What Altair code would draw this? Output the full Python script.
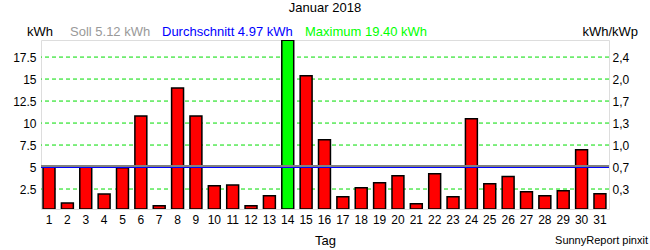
import altair as alt
import pandas as pd

days = list(range(1, 32))
energy = [5.0, 0.9, 5.0, 1.93, 4.92, 10.8, 0.6, 13.98, 10.8, 2.87,
          2.95, 0.6, 1.74, 19.4, 15.38, 8.1, 1.62, 2.65, 3.22, 4.0,
          0.83, 4.24, 1.62, 10.49, 3.10, 3.93, 2.19, 1.74, 2.31, 6.97, 1.97]
soll = 5.12
avg = 4.97
maximum = 19.40
left_ticks = [2.5, 5, 7.5, 10, 12.5, 15, 17.5]
right_labels = ["0,3", "0,7", "1,0", "1,3", "1,7", "2,0", "2,4"]
y_domain = [0.23, 19.44]

FONT = "Liberation Sans"

df = pd.DataFrame({"Tag": days, "kWh": energy})
df["isMax"] = df["kWh"] == df["kWh"].max()

yscale = alt.Scale(domain=y_domain, nice=False, zero=False)

xenc = alt.X("Tag:O", title="Tag",
             scale=alt.Scale(paddingInner=0.35, paddingOuter=0.14, align=0.4),
             axis=alt.Axis(labelAngle=0, ticks=False, domain=False, labelPadding=5,
                           labelFontSize=12, titleFontSize=13, titleFontWeight="normal",
                           titlePadding=9, labelColor="black", titleColor="black"))

grid = alt.Chart(pd.DataFrame({"g": left_ticks})).mark_rule(
    color="#00dd00", strokeWidth=1, strokeDash=[4, 3]
).encode(
    y=alt.Y("g:Q", scale=yscale,
            axis=alt.Axis(values=left_ticks, title=None, labelExpr="toString(datum.value)",
                          ticks=False, domain=False, labelPadding=5, labelFontSize=12,
                          labelColor="black", grid=False))
)

bars = alt.Chart(df).mark_bar(stroke="black", strokeWidth=1.5, clip=True).encode(
    x=xenc,
    y=alt.Y("kWh:Q", scale=yscale, axis=None),
    y2=alt.datum(y_domain[0]),
    fill=alt.condition(alt.datum.isMax, alt.value("#00ff00"), alt.value("#ff0000")),
)

expr = "''"
for v, lab in reversed(list(zip(left_ticks, right_labels))):
    expr = f"datum.value == {v} ? '{lab}' : ({expr})"

avg_rule = alt.Chart(pd.DataFrame({"v": [avg]})).mark_rule(color="#0000ff", strokeWidth=1.3).encode(
    y=alt.Y("v:Q", scale=yscale, axis=None))
soll_rule = alt.Chart(pd.DataFrame({"v": [soll]})).mark_rule(color="#808080", strokeWidth=2).encode(
    y=alt.Y("v:Q", scale=yscale,
            axis=alt.Axis(orient="right", values=left_ticks, title=None, labelExpr=expr,
                          ticks=False, domain=False, labelPadding=3, labelFontSize=12,
                          labelColor="black", grid=False)))

def label(text, x, y, color="black", align="left", size=13):
    return alt.Chart(pd.DataFrame({"t": [text]})).mark_text(
        align=align, baseline="middle", font=FONT, fontSize=size, color=color
    ).encode(text="t:N", x=alt.value(x), y=alt.value(y))

texts = [
    label("Januar 2018", 284, -32, align="center"),
    label("kWh", -14, -8),
    label(f"Soll {soll:.2f} kWh", 29, -8, color="#999999"),
    label(f"Durchschnitt {avg:.2f} kWh", 121, -8, color="#0000ff"),
    label(f"Maximum {maximum:.2f} kWh", 264, -8, color="#00ff00"),
    label("kWh/kWp", 597, -8, align="right"),
    label("SunnyReport pinxit", 607, 201, align="right", size=11),
]

chart = alt.layer(grid, bars, avg_rule, soll_rule, *texts).resolve_scale(y="independent").properties(
    width=568, height=169,
    autosize=alt.AutoSizeParams(type="none"),
    padding={"left": 41, "top": 40, "right": 41, "bottom": 41},
).configure_view(stroke="black", strokeWidth=1.5).configure(
    font=FONT, background="white"
)

chart.save("out.html", embed_options={"renderer": "svg", "actions": False})
